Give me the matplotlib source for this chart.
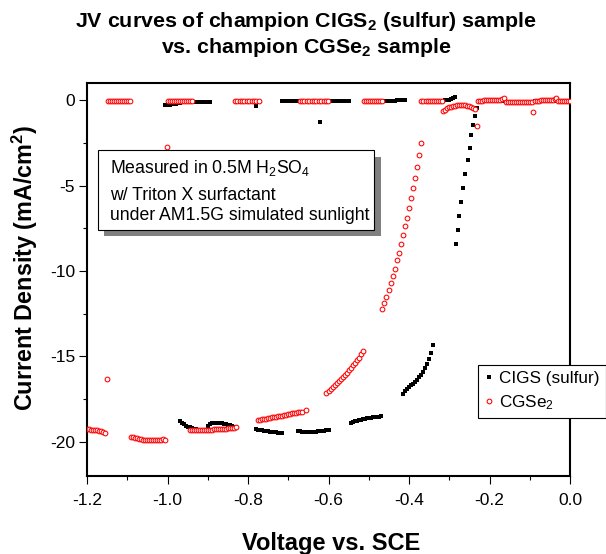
import matplotlib
matplotlib.use('Agg')
import matplotlib.pyplot as plt
from matplotlib.patches import Rectangle
from matplotlib.ticker import MultipleLocator, FormatStrFormatter
from matplotlib.lines import Line2D

plt.rcParams['font.family'] = ['Liberation Sans', 'DejaVu Sans']
plt.rcParams['mathtext.fontset'] = 'custom'
plt.rcParams['mathtext.rm'] = 'Liberation Sans'
plt.rcParams['mathtext.bf'] = 'Liberation Sans:bold'
plt.rcParams['mathtext.default'] = 'regular'
plt.rcParams['axes.unicode_minus'] = False

# ---------------- data: CGSe2 (red open circles) ----------------
cgse_v1 = [-1.200, -1.195, -1.190, -1.185, -1.180, -1.175, -1.170, -1.165, -1.160, -1.155, -1.150]
cgse_j1 = [-19.24, -19.26, -19.28, -19.29, -19.31, -19.33, -19.35, -19.38, -19.42, -19.47, -16.30]
cgse_v2 = [-1.147, -1.142, -1.137, -1.132, -1.127, -1.122, -1.117, -1.112, -1.107, -1.102, -1.097, -1.093]
cgse_j2 = [-0.08, -0.08, -0.07, -0.07, -0.07, -0.06, -0.06, -0.06, -0.06, -0.05, -0.05, -0.05]
cgse_v3 = [-1.090, -1.085, -1.080, -1.075, -1.070, -1.065, -1.060, -1.055, -1.050, -1.045, -1.040,
           -1.035, -1.030, -1.025, -1.020, -1.015, -1.010, -1.005, -1.001]
cgse_j3 = [-19.69, -19.74, -19.78, -19.80, -19.83, -19.85, -19.87, -19.89, -19.90, -19.90, -19.90,
           -19.89, -19.89, -19.88, -19.88, -19.87, -19.86, -19.88, -2.75]
cgse_v4 = [-0.999, -0.994, -0.989, -0.984, -0.979, -0.974, -0.969, -0.964, -0.959, -0.954, -0.949, -0.944, -0.940]
cgse_j4 = [-0.06, -0.06, -0.05, -0.05, -0.05, -0.05, -0.05, -0.05, -0.05, -0.04, -0.04, -0.04, -0.04]
cgse_v5 = [-0.945, -0.940, -0.935, -0.930, -0.925, -0.920, -0.915, -0.910, -0.905, -0.900, -0.895, -0.890,
           -0.885, -0.880, -0.875, -0.870, -0.865, -0.860, -0.855, -0.850, -0.845, -0.840, -0.835, -0.830]
cgse_j5 = [-19.28, -19.31, -19.32, -19.32, -19.32, -19.31, -19.31, -19.30, -19.30, -19.29, -19.28, -19.28,
           -19.27, -19.26, -19.26, -19.25, -19.24, -19.24, -19.23, -19.22, -19.21, -19.20, -19.18, -19.16]
cgse_v6 = [-0.833, -0.827, -0.821, -0.815, -0.809, -0.803, -0.797, -0.791, -0.785, -0.779, -0.773]
cgse_j6 = [-0.05, -0.05, -0.05, -0.05, -0.05, -0.05, -0.05, -0.05, -0.05, -0.05, -0.05]
cgse_v7 = [-0.775, -0.770, -0.765, -0.760, -0.755, -0.750, -0.745, -0.740, -0.735, -0.730, -0.725, -0.720,
           -0.715, -0.710, -0.705, -0.700, -0.695, -0.690, -0.685, -0.680, -0.675, -0.670, -0.665, -0.657]
cgse_j7 = [-18.73, -18.71, -18.69, -18.66, -18.64, -18.62, -18.60, -18.57, -18.55, -18.53, -18.50, -18.48,
           -18.46, -18.44, -18.41, -18.39, -18.37, -18.34, -18.32, -18.30, -18.28, -18.26, -18.24, -18.15]
cgse_v8 = [-0.672, -0.666, -0.660, -0.654, -0.648, -0.642, -0.636, -0.630, -0.624, -0.618, -0.612, -0.606, -0.601]
cgse_j8 = [-0.05, -0.05, -0.05, -0.05, -0.05, -0.05, -0.05, -0.05, -0.05, -0.05, -0.05, -0.05, -0.05]
cgse_v9 = [-0.605, -0.600, -0.595, -0.590, -0.585, -0.580, -0.575, -0.570, -0.565, -0.560, -0.555, -0.550,
           -0.545, -0.540, -0.535, -0.530, -0.525, -0.520, -0.515]
cgse_j9 = [-17.12, -17.02, -16.91, -16.80, -16.69, -16.58, -16.46, -16.35, -16.22, -16.09, -15.96, -15.82,
           -15.68, -15.53, -15.38, -15.24, -15.07, -14.88, -14.70]
cgse_v10 = [-0.512, -0.507, -0.502, -0.497, -0.492, -0.487, -0.482, -0.477, -0.472, -0.468]
cgse_j10 = [-0.05, -0.05, -0.05, -0.05, -0.05, -0.05, -0.05, -0.05, -0.05, -0.05]
cgse_v11 = [-0.466, -0.462, -0.456, -0.449, -0.445, -0.440, -0.434, -0.429, -0.425, -0.420,
            -0.415, -0.410, -0.405, -0.400, -0.395, -0.391, -0.385, -0.379, -0.374, -0.370]
cgse_j11 = [-12.20, -11.89, -11.50, -11.11, -10.71, -10.30, -9.87, -9.38, -8.93, -8.41,
            -7.92, -7.39, -6.88, -6.30, -5.73, -5.16, -4.54, -3.91, -3.23, -2.50]
cgse_v12 = [-0.369, -0.364, -0.359, -0.354, -0.349, -0.344, -0.339, -0.334, -0.329, -0.324, -0.319]
cgse_j12 = [-0.05, -0.05, -0.05, -0.05, -0.05, -0.05, -0.05, -0.05, -0.05, -0.05, -0.05]
cgse_v13 = [-0.315, -0.310, -0.305, -0.300, -0.295, -0.290, -0.285, -0.280, -0.275, -0.270,
            -0.265, -0.260, -0.255, -0.250, -0.245, -0.240, -0.235, -0.231]
cgse_j13 = [-0.66, -0.56, -0.48, -0.42, -0.38, -0.35, -0.32, -0.31, -0.30, -0.29,
            -0.29, -0.31, -0.33, -0.36, -0.39, -0.44, -0.53, -1.51]
cgse_v14 = [-0.228, -0.223, -0.218, -0.213, -0.208, -0.203, -0.198, -0.193, -0.188, -0.183, -0.178, -0.173, -0.168, -0.163]
cgse_j14 = [-0.04, -0.03, -0.03, -0.02, -0.02, -0.01, -0.01, 0.00, 0.00, 0.01, 0.02, 0.03, 0.05, 0.12]
cgse_v15 = [-0.160, -0.155, -0.150, -0.145, -0.140, -0.135, -0.130, -0.125, -0.120, -0.115, -0.110, -0.105, -0.100, -0.095, -0.092]
cgse_j15 = [-0.12, -0.12, -0.11, -0.11, -0.11, -0.11, -0.10, -0.10, -0.10, -0.10, -0.10, -0.10, -0.09, -0.09, -0.70]
cgse_v16 = [-0.088, -0.083, -0.078, -0.073, -0.068, -0.063, -0.058, -0.053, -0.048, -0.043, -0.038, -0.034]
cgse_j16 = [-0.04, -0.03, -0.03, -0.02, -0.02, -0.01, -0.01, 0.00, 0.01, 0.02, 0.04, 0.12]
cgse_v17 = [-0.030, -0.025, -0.020, -0.015, -0.010, -0.005, 0.000]
cgse_j17 = [-0.06, -0.06, -0.06, -0.06, -0.06, -0.06, -0.06]

# ---------------- data: CIGS (sulfur) (black squares) ----------------
cigs_v1 = [-1.005, -1.000, -0.995, -0.990, -0.985, -0.980, -0.975, -0.970]
cigs_j1 = [-0.30, -0.28, -0.26, -0.24, -0.22, -0.20, -0.18, -0.16]
cigs_v2 = [-0.970, -0.965, -0.960, -0.955, -0.950, -0.945, -0.940, -0.935, -0.930]
cigs_j2 = [-18.80, -18.90, -18.98, -19.05, -19.11, -19.16, -19.20, -19.24, -19.27]
cigs_v3 = [-0.930, -0.925, -0.920, -0.915, -0.910, -0.905, -0.900, -0.895]
cigs_j3 = [-0.14, -0.13, -0.12, -0.11, -0.10, -0.10, -0.09, -0.09]
cigs_v4 = [-0.900, -0.895, -0.890, -0.885, -0.880, -0.875, -0.870, -0.865, -0.860, -0.855,
           -0.850, -0.845, -0.840, -0.835, -0.830]
cigs_j4 = [-19.05, -18.97, -18.92, -18.89, -18.87, -18.87, -18.88, -18.90, -18.93, -18.96,
           -19.00, -19.04, -19.08, -19.12, -19.15]
cigs_v5 = [-0.830, -0.825, -0.820, -0.815, -0.810, -0.805, -0.800, -0.795, -0.790, -0.785, -0.780]
cigs_j5 = [-0.12, -0.12, -0.12, -0.12, -0.12, -0.12, -0.12, -0.12, -0.12, -0.12, -0.35]
cigs_v6 = [-0.780, -0.775, -0.770, -0.765, -0.760, -0.755, -0.750, -0.745, -0.740, -0.735,
           -0.730, -0.725, -0.720, -0.715]
cigs_j6 = [-19.26, -19.28, -19.30, -19.32, -19.34, -19.36, -19.38, -19.40, -19.42, -19.44,
           -19.45, -19.47, -19.48, -19.50]
cigs_v7 = [-0.715, -0.710, -0.705, -0.700, -0.695, -0.690, -0.685, -0.680, -0.675]
cigs_j7 = [-0.03, -0.03, -0.03, -0.03, -0.03, -0.03, -0.03, -0.03, -0.03]
cigs_v8 = [-0.675, -0.670, -0.665, -0.660, -0.655, -0.650, -0.645, -0.640, -0.635, -0.630,
           -0.625, -0.622, -0.620, -0.615, -0.610, -0.605, -0.600]
cigs_j8 = [-19.37, -19.39, -19.40, -19.41, -19.42, -19.42, -19.42, -19.42, -19.41, -19.40,
           -19.39, -1.30, -19.38, -19.37, -19.35, -19.33, -19.31]
cigs_v9 = [-0.600, -0.595, -0.590, -0.585, -0.580, -0.575, -0.570, -0.565, -0.560, -0.555, -0.550]
cigs_j9 = [-0.03, -0.03, -0.03, -0.03, -0.03, -0.03, -0.03, -0.03, -0.03, -0.03, -0.03]
cigs_v10 = [-0.545, -0.540, -0.535, -0.530, -0.525, -0.520, -0.515, -0.510, -0.505, -0.500,
            -0.495, -0.490, -0.485, -0.480, -0.475, -0.470]
cigs_j10 = [-18.88, -18.84, -18.80, -18.77, -18.74, -18.71, -18.68, -18.65, -18.63, -18.61,
            -18.59, -18.57, -18.55, -18.54, -18.52, -18.51]
cigs_v11 = [-0.465, -0.460, -0.455, -0.450, -0.445, -0.440, -0.435, -0.430, -0.425, -0.420, -0.415, -0.410]
cigs_j11 = [-0.03, -0.03, -0.03, -0.03, -0.03, -0.03, -0.03, -0.02, -0.02, -0.02, 0.00, 0.03]
cigs_v12 = [-0.415, -0.410, -0.405, -0.400, -0.395, -0.390, -0.385, -0.380, -0.375, -0.370,
            -0.365, -0.360, -0.355, -0.350, -0.345, -0.340]
cigs_j12 = [-17.18, -17.02, -16.90, -16.80, -16.70, -16.60, -16.49, -16.37, -16.23, -16.07,
            -15.89, -15.67, -15.42, -15.13, -14.78, -14.32]
cigs_v13 = [-0.315, -0.310, -0.305, -0.300, -0.295, -0.290, -0.286]
cigs_j13 = [-0.03, -0.02, 0.00, 0.02, 0.05, 0.10, 0.17]
cigs_v14 = [-0.284, -0.279, -0.275, -0.270, -0.265, -0.260, -0.254, -0.249, -0.245, -0.241, -0.237, -0.231]
cigs_j14 = [-8.41, -7.62, -6.80, -5.96, -5.14, -4.34, -3.52, -2.78, -2.07, -1.47, -0.94, -0.49]
cigs_v15 = [-0.226, -0.221, -0.216, -0.211, -0.206, -0.201, -0.196, -0.191, -0.186, -0.181, -0.176, -0.171,
            -0.166, -0.161, -0.156, -0.151, -0.146, -0.141, -0.136, -0.131, -0.126, -0.121, -0.116, -0.111,
            -0.106, -0.101, -0.096, -0.091, -0.086, -0.081, -0.076, -0.071, -0.066, -0.061, -0.056, -0.051,
            -0.046, -0.041, -0.036, -0.031, -0.026, -0.021, -0.016, -0.011, -0.006, -0.001]
cigs_j15 = [-0.05, -0.05, -0.05, -0.05, -0.05, -0.05, -0.05, -0.05, -0.05, -0.05, -0.05, -0.05,
            -0.05, -0.05, -0.10, -0.10, -0.10, -0.10, -0.10, -0.10, -0.10, -0.10, -0.10, -0.10,
            -0.10, -0.10, -0.10, -0.10, -0.03, -0.03, -0.03, -0.03, -0.03, -0.03, -0.03, -0.03,
            -0.03, -0.03, -0.03, -0.03, -0.03, -0.03, -0.03, -0.03, -0.03, -0.03]

cgse_v = (cgse_v1 + cgse_v2 + cgse_v3 + cgse_v4 + cgse_v5 + cgse_v6 + cgse_v7 + cgse_v8 + cgse_v9
          + cgse_v10 + cgse_v11 + cgse_v12 + cgse_v13 + cgse_v14 + cgse_v15 + cgse_v16 + cgse_v17)
cgse_j = (cgse_j1 + cgse_j2 + cgse_j3 + cgse_j4 + cgse_j5 + cgse_j6 + cgse_j7 + cgse_j8 + cgse_j9
          + cgse_j10 + cgse_j11 + cgse_j12 + cgse_j13 + cgse_j14 + cgse_j15 + cgse_j16 + cgse_j17)
cigs_v = (cigs_v1 + cigs_v2 + cigs_v3 + cigs_v4 + cigs_v5 + cigs_v6 + cigs_v7 + cigs_v8
          + cigs_v9 + cigs_v10 + cigs_v11 + cigs_v12 + cigs_v13 + cigs_v14 + cigs_v15)
cigs_j = (cigs_j1 + cigs_j2 + cigs_j3 + cigs_j4 + cigs_j5 + cigs_j6 + cigs_j7 + cigs_j8
          + cigs_j9 + cigs_j10 + cigs_j11 + cigs_j12 + cigs_j13 + cigs_j14 + cigs_j15)

series_labels = ['CIGS (sulfur)', 'CGSe$_2$']
title_lines = [r'JV curves of champion CIGS$_\mathbf{2}$ (sulfur) sample',
               r'vs. champion CGSe$_\mathbf{2}$ sample']
x_label = 'Voltage vs. SCE'
y_label = r'Current Density (mA/cm$^\mathbf{2}$)'
note_lines = ['Measured in 0.5M H$_2$SO$_4$', 'w/ Triton X surfactant', 'under AM1.5G simulated sunlight']

# ---------------- figure ----------------
W, H = 606, 554
fig = plt.figure(figsize=(W / 100, H / 100), dpi=100)
fig.patch.set_facecolor('white')
ax = fig.add_axes([87 / W, 1 - 476 / H, (570 - 87) / W, (476 - 83) / H])

ax.plot(cigs_v, cigs_j, ls='none', marker='s', ms=3.4, mew=0, color='black', zorder=3)
ax.plot(cgse_v, cgse_j, ls='none', marker='o', ms=3.4, mew=0.75, mec='#ff0000', mfc='white', zorder=4)

ax.set_xlim(-1.2, 0.0)
ax.set_ylim(-22, 1)
ax.xaxis.set_major_locator(MultipleLocator(0.2))
ax.xaxis.set_minor_locator(MultipleLocator(0.1))
ax.yaxis.set_major_locator(MultipleLocator(5))
ax.yaxis.set_minor_locator(MultipleLocator(2.5))
ax.xaxis.set_major_formatter(FormatStrFormatter('%.1f'))
ax.yaxis.set_major_formatter(FormatStrFormatter('%d'))
for s in ax.spines.values():
    s.set_linewidth(1.5)
ax.tick_params(which='both', direction='out', top=False, right=False, width=0.8)
ax.tick_params(which='major', length=5.5, labelsize=12.5)
ax.tick_params(which='minor', length=3.2)
ax.tick_params(axis='x', which='major', pad=7)
ax.tick_params(axis='y', which='major', pad=3)

# titles and labels
fig.text(0.505, 1 - 27 / H, title_lines[0], ha='center', va='baseline', fontsize=15.4, fontweight='bold')
fig.text(0.505, 1 - 53 / H, title_lines[1], ha='center', va='baseline', fontsize=15.4, fontweight='bold')
fig.text(331 / W, 1 - 550 / H, x_label, ha='center', va='baseline', fontsize=17, fontweight='bold')
fig.text(25 / W, 1 - 268 / H, y_label, ha='center', va='center', rotation=90, fontsize=16.8, fontweight='bold')

# note box with drop shadow
fig.add_artist(Rectangle((104 / W, 1 - 236 / H), (381 - 104) / W, (236 - 157) / H,
                         transform=fig.transFigure, facecolor='#808080', edgecolor='none', zorder=5))
fig.add_artist(Rectangle((97.5 / W, 1 - 230.5 / H), (374.5 - 97.5) / W, (230.5 - 150) / H,
                         transform=fig.transFigure, facecolor='white', edgecolor='black', lw=0.8, zorder=6))
for txt, yb in zip(note_lines, [173, 200, 220]):
    fig.text(110 / W, 1 - yb / H, txt, ha='left', va='baseline', fontsize=12.7, zorder=7)

# legend
handles = [Line2D([], [], ls='none', marker='s', ms=3.4, mew=0, color='black'),
           Line2D([], [], ls='none', marker='o', ms=3.4, mew=0.75, mec='#ff0000', mfc='white')]
leg = ax.legend(handles, series_labels, loc='upper left', bbox_to_anchor=(478 / W, 1 - 365 / H),
                bbox_transform=fig.transFigure, frameon=True, fancybox=False, framealpha=1,
                edgecolor='black', fontsize=12.3, borderpad=0.35, borderaxespad=0, handlelength=0.6,
                handletextpad=0.3, labelspacing=0.42)
leg.get_frame().set_linewidth(0.8)

fig.savefig('out.png', dpi=100)
